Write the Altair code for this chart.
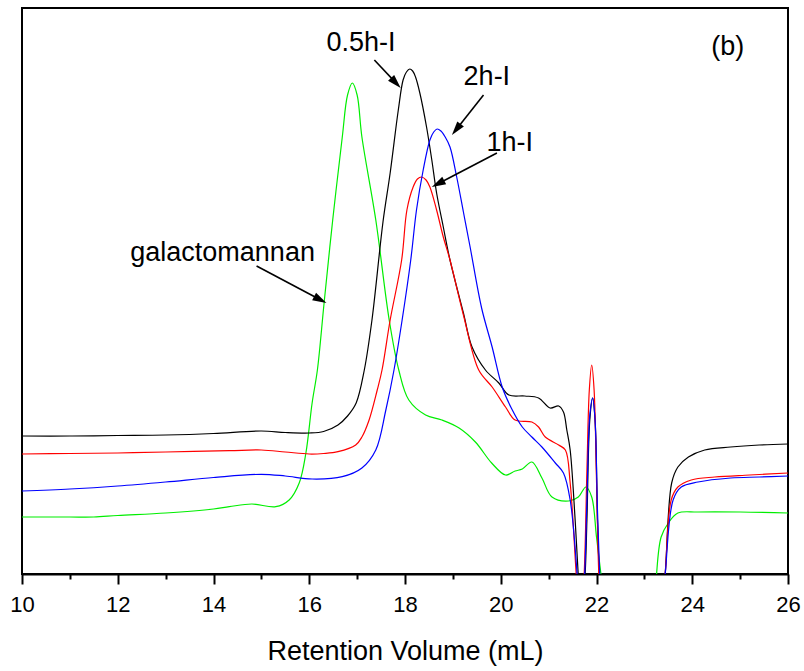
import math
import altair as alt
import pandas as pd

FONT = "Liberation Sans"

# ---- series values (retention volume in mL, detector signal in arbitrary units) ----
black_x = [10.0, 11.0, 12.0, 13.0, 14.0, 15.0, 15.5, 16.0, 16.3, 16.6, 16.8, 16.98, 17.15, 17.31,
           17.54, 17.69, 17.86, 17.96, 18.03, 18.1, 18.16, 18.22, 18.31, 18.45, 18.56, 18.66, 18.8,
           18.94, 19.22, 19.4, 19.68, 19.96, 20.17, 20.5, 20.79, 21.03, 21.21, 21.31, 21.38, 21.45,
           21.55, 21.62, 21.68, 21.76, 21.8, 21.86, 21.92, 21.97, 22.02, 22.06, 22.12, 23.3, 23.43,
           23.57, 23.7, 23.92, 24.26, 24.8, 25.4, 26.0]
black_y = [138, 138, 138.5, 139, 140.5, 143, 141.5, 141, 142.5, 149, 158, 171, 204, 254,
           352, 401, 464, 494, 502, 505, 503, 497, 481, 447, 414, 381, 347,
           314, 261, 227, 204, 191, 179, 178, 176, 166, 168, 162, 144, 124,
           57, -2, -46, -2, 54, 154, 176, 154, 54, -3, -66, -66, -3,
           91, 107, 117, 124, 127, 129, 130]

red_x = [10.0, 11.0, 12.0, 13.0, 14.33, 15.0, 15.5, 16.0, 16.3, 16.6, 16.97, 17.1, 17.25, 17.42,
         17.52, 17.69, 17.93, 18.04, 18.17, 18.26, 18.35, 18.44, 18.52, 18.66, 18.8, 18.94, 19.22,
         19.54, 19.82, 20.1, 20.3, 20.65, 20.79, 20.93, 21.21, 21.35, 21.45, 21.58, 21.66, 21.74,
         21.8, 21.85, 21.9, 21.95, 22.0, 22.05, 22.12, 23.3, 23.43, 23.56, 23.7, 23.98, 24.47,
         25.2, 26.0]
red_y = [120, 120.5, 121, 122, 123.3, 124, 122, 120, 120.5, 122.3, 129, 137, 154, 184,
         204, 254, 314, 364, 387, 395, 397, 394, 387, 364, 337, 314, 259,
         204, 187, 167, 154, 152, 147, 137, 129, 124, 91, -3, -56, -3,
         104, 184, 209, 184, 94, -3, -66, -66, -3, 74, 87, 94, 97,
         99, 101]

blue_x = [10.0, 11.0, 12.0, 13.0, 14.0, 15.0, 15.5, 16.06, 16.69, 17.1, 17.39, 17.6, 17.77, 17.94,
          18.12, 18.24, 18.38, 18.52, 18.6, 18.67, 18.75, 18.84, 18.94, 19.08, 19.22, 19.36, 19.6,
          19.82, 20.03, 20.22, 20.45, 20.65, 20.86, 21.14, 21.31, 21.45, 21.6, 21.67, 21.75, 21.8,
          21.86, 21.92, 21.97, 22.02, 22.07, 22.13, 23.3, 23.43, 23.6, 23.77, 24.12, 24.8, 25.4,
          26.0]
blue_y = [83, 85, 88, 92, 96.5, 99.7, 98, 95, 97.3, 106, 124, 164, 204, 254,
          314, 364, 404, 434, 442, 445, 443, 437, 427, 397, 362, 327, 266,
          227, 187, 166, 147, 137, 127, 111, 101, 74, -3, -56, -3, 74,
          159, 176, 154, 64, -3, -66, -66, -3, 74, 87, 92, 96, 97,
          98]

green_x = [10.0, 11.0, 11.5, 12.0, 13.0, 14.0, 14.33, 14.8, 15.3, 15.58, 15.79, 15.93, 16.06, 16.17,
           16.31, 16.49, 16.69, 16.8, 16.9, 17.0, 17.1, 17.39, 17.67, 17.87, 18.08, 18.43, 18.77,
           19.13, 19.47, 19.81, 20.1, 20.3, 20.45, 20.65, 20.86, 21.07, 21.42, 21.62, 21.78, 21.9,
           22.0, 22.1, 22.2, 23.2, 23.25, 23.35, 23.5, 23.7, 24.12, 25.0, 26.0]
green_y = [57, 57, 57, 58.5, 61, 65, 67.3, 70, 67.3, 74, 91, 121, 171, 204,
           271, 354, 437, 479, 491, 479, 437, 354, 254, 204, 174, 159, 154,
           146, 132, 111, 99, 103, 105, 112, 96, 77, 73, 77, 87, 77,
           37, -3, -46, -46, -3, 37, 51, 61, 62, 62, 61]

series_names = ["galactomannan", "0.5h-I", "1h-I", "2h-I"]
series_colors = ["#00ee00", "#000000", "#ff0000", "#0000ff"]
series_xs = [green_x, black_x, red_x, blue_x]
series_ys = [green_y, black_y, red_y, blue_y]

# ---- annotations ----
label_text = ["0.5h-I", "2h-I", "1h-I", "galactomannan", "(b)"]
label_x = [17.08, 19.71, 20.19, 14.19, 24.74]
label_y = [531, 497, 431, 321, 527]

arrow_x1 = [17.36, 19.64, 19.92, 14.90]
arrow_y1 = [514, 479, 421, 308]
arrow_x2 = [17.91, 18.98, 18.56, 16.36]
arrow_y2 = [486, 439, 387, 271]

X_DOMAIN = [10, 26]
Y_DOMAIN = [0, 566]
W, H = 766, 566
PX_X = W / (X_DOMAIN[1] - X_DOMAIN[0])
PX_Y = H / (Y_DOMAIN[1] - Y_DOMAIN[0])
HEAD = 7

rows = []
for name, xs, ys in zip(series_names, series_xs, series_ys):
    for i, (xv, yv) in enumerate(zip(xs, ys)):
        rows.append({"series": name, "v": xv, "s": yv, "i": i})
lines_df = pd.DataFrame(rows)

labels_df = pd.DataFrame({"t": label_text, "x": label_x, "y": label_y})

heads = []
for x1, y1, x2, y2 in zip(arrow_x1, arrow_y1, arrow_x2, arrow_y2):
    dx = (x2 - x1) * PX_X
    dy = -(y2 - y1) * PX_Y
    L = math.hypot(dx, dy)
    ux, uy = dx / L, dy / L
    ang = math.degrees(math.atan2(ux, -uy)) % 360
    heads.append({"x1": x1, "y1": y1, "x2": x2, "y2": y2,
                  "hx": x2 - ux * HEAD / PX_X, "hy": y2 + uy * HEAD / PX_Y, "ang": ang})
arrows_df = pd.DataFrame(heads)

xscale = alt.Scale(domain=X_DOMAIN, nice=False, zero=False)
yscale = alt.Scale(domain=Y_DOMAIN, nice=False, zero=False)

x_axis = alt.Axis(
    values=list(range(10, 27)),
    labelExpr="datum.value % 2 == 0 ? datum.label : ''",
    tickSize={"condition": {"test": "datum.value % 2 == 0", "value": 10}, "value": 5},
    labelPadding=10,
    labelFlush=False,
    title="Retention Volume (mL)",
    titlePadding=23,
)

lines = alt.Chart(lines_df).mark_line(clip=True, strokeWidth=1.2, interpolate="catmull-rom").encode(
    x=alt.X("v:Q", scale=xscale, axis=x_axis),
    y=alt.Y("s:Q", scale=yscale, axis=None),
    color=alt.Color("series:N", scale=alt.Scale(domain=series_names, range=series_colors), legend=None),
    order="i:Q",
)

texts = alt.Chart(labels_df).mark_text(font=FONT, fontSize=27, color="black",
                                       align="center", baseline="middle").encode(
    x=alt.X("x:Q", scale=xscale, axis=x_axis),
    y=alt.Y("y:Q", scale=yscale, axis=None),
    text="t:N",
)

shafts = alt.Chart(arrows_df).mark_rule(color="black", strokeWidth=1.6).encode(
    x=alt.X("x1:Q", scale=xscale, axis=x_axis),
    y=alt.Y("y1:Q", scale=yscale, axis=None),
    x2="hx:Q",
    y2="hy:Q",
)

heads_layer = alt.Chart(arrows_df).mark_point(
    shape="M0,-1L0.6,1L-0.6,1Z", filled=True, color="black", opacity=1, size=196
).encode(
    x=alt.X("hx:Q", scale=xscale, axis=x_axis),
    y=alt.Y("hy:Q", scale=yscale, axis=None),
    angle=alt.Angle("ang:Q", scale=None),
)

chart = alt.layer(lines, shafts, heads_layer, texts).properties(
    width=W, height=H,
    padding={"left": 22, "top": 8, "right": 16, "bottom": 97},
    autosize=alt.AutoSizeParams(type="none"),
    background="white",
).configure_view(
    stroke="black", strokeWidth=2
).configure_axis(
    domainColor="black", domainWidth=2, tickColor="black", tickWidth=2, grid=False,
    labelFont=FONT, labelFontSize=22, labelColor="black",
    titleFont=FONT, titleFontSize=27, titleColor="black", titleFontWeight="normal",
)

chart.save("out.html", embed_options={"renderer": "svg", "actions": False})
